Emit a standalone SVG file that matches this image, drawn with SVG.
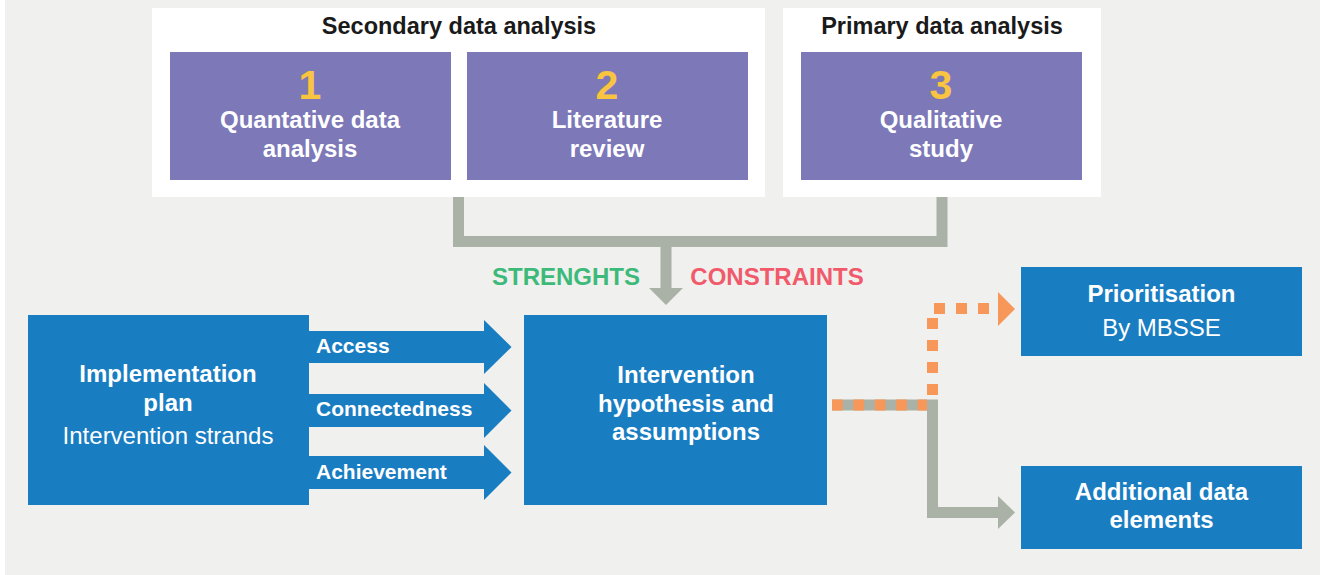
<svg xmlns="http://www.w3.org/2000/svg" width="1320" height="575" viewBox="0 0 1320 575">
<style>
text{font-family:"Liberation Sans",Arial,Helvetica,sans-serif;text-anchor:middle}
.b{font-weight:bold}
.t{font-size:23.5px;font-weight:bold;fill:#1a1a1a}
.num{font-size:41px;font-weight:bold;fill:#f9c440}
.w{font-size:24px;font-weight:bold;fill:#ffffff}
.r{font-size:24px;fill:#ffffff}
.s{font-size:21px;font-weight:bold;fill:#ffffff;text-anchor:start}
.purple{fill:#7d78b8}
.blue{fill:#197dc2}
.panel{fill:#ffffff}
.gray{stroke:#aab1a6;stroke-width:11;fill:none}
</style>
<rect x="5" y="0" width="1315" height="575" fill="#f0f0ee"/>

<g id="secondary-panel">
<rect class="panel" x="152" y="8" width="613" height="189"/>
<text class="t" x="459" y="34">Secondary data analysis</text>
</g>
<g id="primary-panel">
<rect class="panel" x="783" y="8" width="318" height="189"/>
<text class="t" x="942" y="34">Primary data analysis</text>
</g>

<g id="connectors">
<path class="gray" d="M458.5 197 V241.5 H942 V197"/>
<path class="gray" d="M666 241.5 V292"/>
<polygon points="649,288 683,288 666,305" fill="#aab1a6"/>
<path class="gray" d="M832 405 H932.5 V512.5 H1000"/>
<polygon points="998,496 1015,512.5 998,529" fill="#aab1a6"/>
<path d="M832 405 H927" stroke="#f7975a" stroke-width="11" fill="none" stroke-dasharray="10.7 10.7"/>
<path d="M932.5 395 V308.5 H1000" stroke="#f7975a" stroke-width="11" fill="none" stroke-dasharray="11 11"/>
<polygon points="998,292 1015,309 998,326" fill="#f7975a"/>
<text x="566" y="285" class="b" style="font-size:24px;fill:#3dba7a">STRENGHTS</text>
<text x="777" y="285" class="b" style="font-size:24px;fill:#f05a6b">CONSTRAINTS</text>
</g>

<g id="node-1">
<rect class="purple" x="170" y="52" width="281" height="128"/>
<text class="num" x="310" y="99">1</text>
<text class="w" x="310" y="128">Quantative data</text>
<text class="w" x="310" y="157">analysis</text>
</g>
<g id="node-2">
<rect class="purple" x="467" y="52" width="281" height="128"/>
<text class="num" x="607" y="99">2</text>
<text class="w" x="607" y="128">Literature</text>
<text class="w" x="607" y="157">review</text>
</g>
<g id="node-3">
<rect class="purple" x="801" y="52" width="281" height="128"/>
<text class="num" x="941" y="99">3</text>
<text class="w" x="941" y="128">Qualitative</text>
<text class="w" x="941" y="157">study</text>
</g>

<g id="implementation-plan">
<rect class="blue" x="28" y="315" width="281" height="190"/>
<text class="w" x="168" y="382">Implementation</text>
<text class="w" x="168" y="411">plan</text>
<text class="r" x="168" y="444">Intervention strands</text>
</g>

<g id="strand-access">
<polygon class="blue" points="308,331 484,331 484,320 511.5,347 484,374 484,363 308,363"/>
<text class="s" x="316" y="353">Access</text>
</g>
<g id="strand-connectedness">
<polygon class="blue" points="308,394 484,394 484,383 511.5,410.5 484,438 484,427 308,427"/>
<text class="s" x="316" y="416">Connectedness</text>
</g>
<g id="strand-achievement">
<polygon class="blue" points="308,456 484,456 484,445 511.5,472.5 484,500 484,489 308,489"/>
<text class="s" x="316" y="479">Achievement</text>
</g>

<g id="intervention-hypothesis">
<rect class="blue" x="524" y="315" width="303" height="190"/>
<text class="w" x="686" y="383">Intervention</text>
<text class="w" x="686" y="412">hypothesis and</text>
<text class="w" x="686" y="440">assumptions</text>
</g>

<g id="prioritisation">
<rect class="blue" x="1021" y="267" width="281" height="89"/>
<text class="w" x="1161.5" y="302">Prioritisation</text>
<text class="r" x="1161.5" y="336">By MBSSE</text>
</g>

<g id="additional-data">
<rect class="blue" x="1021" y="466" width="281" height="83"/>
<text class="w" x="1161.5" y="500">Additional data</text>
<text class="w" x="1161.5" y="528">elements</text>
</g>
</svg>
